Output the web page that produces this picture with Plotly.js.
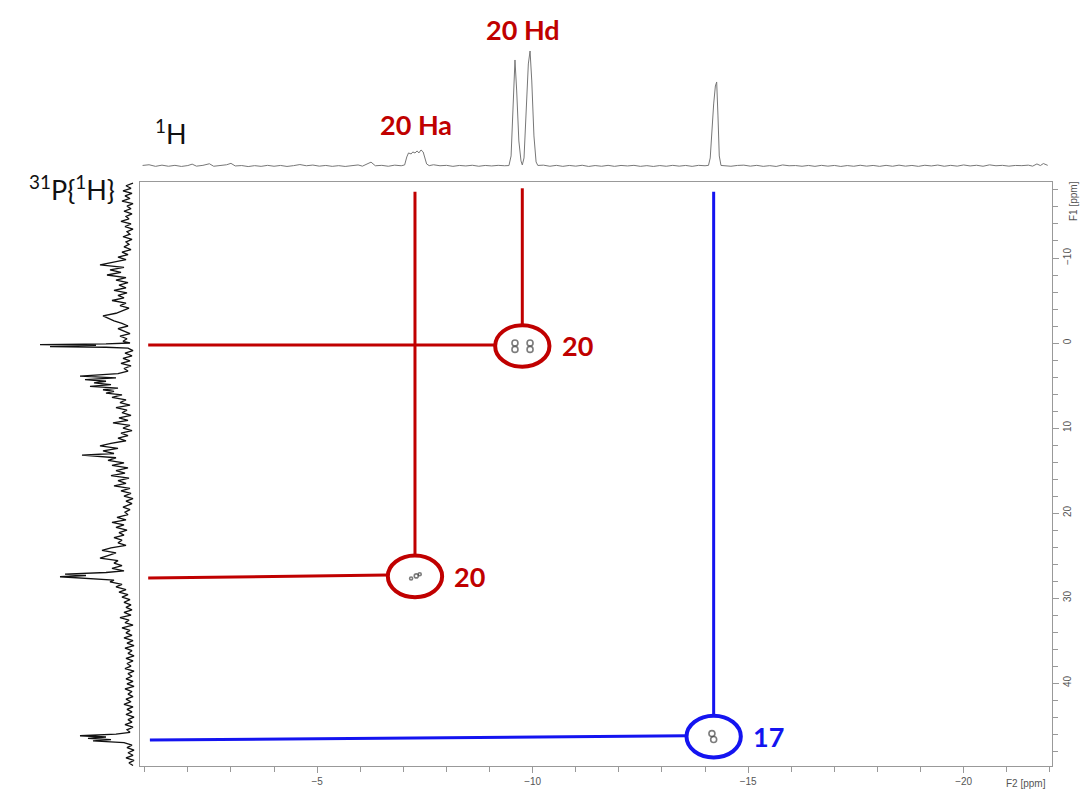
<!DOCTYPE html>
<html>
<head>
<meta charset="utf-8">
<script src="https://cdn.plot.ly/plotly-3.0.1.min.js"></script>
<style>body{margin:0;background:#fff}#chart{width:1082px;height:794px}</style>
</head>
<body>
<div id="chart"></div>
<script>
// ---- 1H projection (top) : chemical shift (ppm) and intensity ----
const topPpm = [-0.95,-1.1,-1.25,-1.4,-1.55,-1.7,-1.85,-2.0,-2.1,-2.2,-2.35,-2.5,-2.6,-2.75,-2.9,-3.0,-3.1,-3.25,-3.4,-3.55,-3.7,-3.85,-4.0,-4.15,-4.3,-4.45,-4.6,-4.75,-4.9,-5.05,-5.2,-5.35,-5.5,-5.65,-5.8,-5.95,-6.05,-6.15,-6.25,-6.35,-6.5,-6.65,-6.8,-6.95,-7.03,-7.08,-7.12,-7.18,-7.22,-7.27,-7.32,-7.36,-7.41,-7.46,-7.5,-7.54,-7.6,-7.7,-7.85,-8.0,-8.15,-8.3,-8.45,-8.6,-8.75,-8.9,-9.05,-9.2,-9.35,-9.45,-9.5,-9.55,-9.59,-9.63,-9.68,-9.73,-9.76,-9.8,-9.85,-9.9,-9.94,-9.98,-10.03,-10.08,-10.12,-10.25,-10.4,-10.55,-10.7,-10.85,-11.0,-11.15,-11.3,-11.45,-11.6,-11.75,-11.9,-12.05,-12.2,-12.35,-12.5,-12.65,-12.8,-12.95,-13.1,-13.25,-13.4,-13.55,-13.7,-13.85,-14.0,-14.08,-14.12,-14.16,-14.2,-14.24,-14.27,-14.3,-14.33,-14.37,-14.45,-14.6,-14.75,-14.9,-15.05,-15.2,-15.35,-15.5,-15.65,-15.8,-15.95,-16.1,-16.25,-16.4,-16.55,-16.7,-16.85,-17.0,-17.15,-17.3,-17.45,-17.6,-17.75,-17.9,-18.05,-18.2,-18.35,-18.5,-18.65,-18.8,-18.95,-19.1,-19.25,-19.4,-19.55,-19.7,-19.85,-20.0,-20.15,-20.3,-20.45,-20.6,-20.75,-20.9,-21.05,-21.2,-21.35,-21.5,-21.6,-21.7,-21.78,-21.85,-21.95];
const topInt = [0.5,1.2,-0.4,0.8,-0.3,0.6,-0.5,0.4,1.8,-0.2,0.6,2.2,-0.3,0.5,1.2,2.6,0.0,0.4,-0.6,0.3,-0.4,0.6,-0.3,0.5,-0.5,0.3,1.4,0.2,0.9,-0.2,0.5,-0.4,0.3,-0.5,0.4,1.0,-0.2,1.6,3.8,0.2,0.6,-0.3,0.8,0.2,1.0,9,13,12,14,13,15,13,16,14,8,2,0.3,1.2,0.2,0.6,-0.4,0.5,0.0,0.7,-0.3,0.5,0.0,0.6,0.2,0.4,10,70,106,75,25,5,1,8,55,102,115,85,30,4,0.5,0.8,-0.3,0.6,-0.4,0.5,-0.2,0.7,-0.5,0.4,-0.3,0.6,-0.4,0.5,0.0,0.6,-0.4,0.3,-0.5,0.4,-0.3,0.6,-0.2,0.5,-0.4,0.6,0.2,0.6,8,40,62,80,84,50,10,0.5,0.4,-0.3,0.5,0.8,-0.2,0.6,-0.4,0.3,-0.5,1.0,0.2,0.4,-0.3,0.5,-0.4,0.6,-0.2,0.5,-0.5,0.4,-0.3,0.7,-0.2,0.5,-0.4,0.6,-0.3,0.8,-0.2,0.5,-0.4,0.7,0.0,0.9,-0.3,0.6,-0.2,1.0,0.0,0.7,-0.3,1.1,0.2,0.6,-0.2,0.5,0.3,0.8,-0.2,2.0,0.4,2.4,0.6];

// ---- 31P{1H} projection (left) ----
const pPpm = [-18.8,-18.5,-18.2,-17.9,-17.6,-17.3,-17.0,-16.7,-16.4,-16.1,-15.8,-15.5,-15.2,-14.9,-14.6,-14.3,-14.0,-13.7,-13.4,-13.1,-12.8,-12.5,-12.2,-11.9,-11.6,-11.3,-11.0,
 -10.7,-10.4,-10.1,-9.8,-9.5,-9.2,-8.9,-8.6,-8.3,-8.0,-7.7,-7.4,
 -7.1,-6.8,-6.5,-6.2,-5.9,-5.6,-5.3,-5.0,-4.7,-4.4,-4.1,-3.8,
 -3.5,-3.2,-2.9,-2.6,-2.3,-2.0,-1.7,-1.4,-1.1,-0.8,-0.5,-0.2,0.0,
 0.1,0.2,0.28,0.35,0.42,0.5,0.6,
 0.9,1.2,1.5,1.8,2.1,2.4,2.7,3.0,3.3,3.6,
 3.9,4.1,4.3,4.5,4.7,4.9,5.1,5.3,5.5,5.7,5.9,6.1,6.4,6.7,
 7.0,7.3,7.6,7.9,8.2,8.5,8.8,9.1,9.4,9.7,10.0,10.3,10.6,10.9,11.2,11.5,
 11.8,12.1,12.4,12.7,13.0,13.2,13.5,13.8,
 14.1,14.4,14.7,15.0,15.3,15.6,15.9,16.2,16.5,16.8,17.1,17.4,
 17.7,18.0,18.3,18.6,18.9,19.3,19.6,19.9,
 20.2,20.5,20.8,21.1,21.4,21.7,22.0,22.3,22.6,22.9,23.2,23.5,23.8,
 24.1,24.4,24.7,25.0,25.3,25.6,25.9,26.2,26.5,26.8,
 27.0,27.2,27.35,27.5,27.7,27.9,28.1,
 28.4,28.7,29.0,29.3,29.6,29.9,30.2,30.5,30.8,31.1,31.4,
 31.7,32.0,32.3,32.6,32.9,33.2,33.5,33.8,34.1,34.4,34.7,
 35.0,35.3,35.6,35.9,36.2,36.5,36.8,37.1,37.4,37.7,38.0,38.3,38.6,38.9,39.2,39.5,39.8,40.1,40.4,40.7,41.0,41.3,41.6,41.9,42.2,42.5,42.8,43.1,43.4,43.7,44.0,44.3,44.6,44.9,45.2,45.5,45.8,
 46.0,46.2,46.35,46.5,46.65,46.8,47.0,
 47.3,47.6,47.9,48.2,48.5,48.8,49.1,49.4,49.7];
const pInt = [3,10,5,13,4,11,6,14,3,9,5,12,4,10,7,15,5,11,3,9,6,13,4,10,7,12,5,
 14,8,18,10,22,36,12,26,15,29,10,20,
 8,17,10,22,9,18,12,24,10,16,7,14,
 20,33,28,22,14,8,18,12,6,16,9,13,6,
 30,96,40,70,86,30,8,
 3,11,4,13,6,15,5,12,8,18,
 56,20,51,30,42,25,46,18,33,22,30,14,24,10,
 16,6,20,9,14,5,17,8,23,6,13,4,15,8,18,10,
 25,36,18,33,22,54,20,28,
 12,24,8,20,11,25,7,18,10,22,6,15,
 5,12,3,10,4,13,6,11,
 8,19,10,24,12,20,9,17,12,22,14,18,10,
 25,34,20,28,36,18,22,14,24,12,
 30,71,50,76,45,22,26,
 14,20,10,17,8,14,6,12,5,10,4,
 12,5,16,7,11,3,14,6,10,4,12,
 3,9,2,11,4,8,2,10,3,9,5,11,2,8,4,10,3,9,2,11,4,8,3,10,5,12,3,9,4,10,2,8,4,11,3,9,6,
 20,56,30,48,25,43,12,
 4,9,2,8,3,10,2,7,3];

// ---- cross peaks (F2 = 1H, F1 = 31P) ----
const crossF2 = [-9.76, -7.27, -14.2];
const crossF1 = [0.35, 27.45, 46.3];
const crossLabel = ['20', '20', '17'];
const crossColor = ['#C00000', '#C00000', '#1414F0'];
const vLineTopF1 = [-18.2, -17.8, -17.8];
const hLineLeftF2 = [-1.08, -1.08, -1.12];
const hLineLeftF1 = [0.24, 27.65, 46.7];
const hLineRightF1 = [0.24, 27.3, 46.2];
const circleRx = 0.63, circleRy = 2.45;

// contour blobs inside the circles
const contourF2 = [-9.59, -9.59, -9.94, -9.94, -7.18, -7.3, -7.38, -14.16, -14.2];
const contourF1 = [0.0, 0.75, 0.0, 0.75, 27.7, 27.4, 27.2, 45.95, 46.65];
const contourSize = [6, 6, 6, 6, 3, 4, 3, 6, 6];

// 1D peak labels
const specLabels = ['20 Ha', '20 Hd'];
const specLabelF2 = [-7.3, -9.77];

const traces = [];
traces.push({x: topPpm, y: topInt, xaxis: 'x', yaxis: 'y2', type: 'scatter', mode: 'lines',
  line: {color: '#777', width: 1}, hoverinfo: 'skip'});
traces.push({x: pInt, y: pPpm, xaxis: 'x3', yaxis: 'y', type: 'scatter', mode: 'lines',
  line: {color: '#111', width: 1.3}, hoverinfo: 'skip'});

const shapes = [];
const annotations = [];
for (let i = 0; i < crossF2.length; i++) {
  traces.push({x: [crossF2[i], crossF2[i]], y: [vLineTopF1[i], crossF1[i] - circleRy],
    xaxis: 'x', yaxis: 'y', mode: 'lines', line: {color: crossColor[i], width: 3}, hoverinfo: 'skip'});
  traces.push({x: [hLineLeftF2[i], crossF2[i] + circleRx], y: [hLineLeftF1[i], hLineRightF1[i]],
    xaxis: 'x', yaxis: 'y', mode: 'lines', line: {color: crossColor[i], width: 3}, hoverinfo: 'skip'});
  shapes.push({type: 'circle', xref: 'x', yref: 'y',
    x0: crossF2[i] + circleRx, x1: crossF2[i] - circleRx,
    y0: crossF1[i] - circleRy, y1: crossF1[i] + circleRy,
    line: {color: crossColor[i], width: 4}});
  annotations.push({x: crossF2[i], y: crossF1[i], xref: 'x', yref: 'y', text: crossLabel[i],
    showarrow: false, xshift: 55, xanchor: 'center', yanchor: 'middle',
    font: {family: 'Lato', size: 27, color: crossColor[i], weight: 'bold'}});
}
traces.push({x: contourF2, y: contourF1, xaxis: 'x', yaxis: 'y', mode: 'markers',
  marker: {symbol: 'circle-open', size: contourSize, color: '#444', line: {width: 1.6, color: '#444'}},
  hoverinfo: 'skip'});

const labelFontRed = {family: 'Lato', size: 27, color: '#C00000', weight: 'bold'};
annotations.push({x: specLabelF2[0], y: (766-125)/766, xref: 'x', yref: 'paper', text: specLabels[0],
  showarrow: false, xanchor: 'center', yanchor: 'middle', font: labelFontRed});
annotations.push({x: specLabelF2[1], y: (766-30)/766, xref: 'x', yref: 'paper', text: specLabels[1],
  showarrow: false, xanchor: 'center', yanchor: 'middle', font: labelFontRed});
annotations.push({x: 171/1052, y: (766-132)/766, xref: 'paper', yref: 'paper', text: '<sup>1</sup>H',
  showarrow: false, xanchor: 'center', yanchor: 'middle', font: {family: 'Lato', size: 27, color: '#111'}});
annotations.push({x: 72/1052, y: (766-188)/766, xref: 'paper', yref: 'paper', text: '<sup>31</sup>P{<sup>1</sup>H}',
  showarrow: false, xanchor: 'center', yanchor: 'middle', font: {family: 'Lato', size: 27, color: '#111'}});
annotations.push({x: 1073/1052, y: (766-201)/766, xref: 'paper', yref: 'paper', text: 'F1 [ppm]',
  textangle: -90, showarrow: false, xanchor: 'center', yanchor: 'middle',
  font: {family: 'Liberation Sans', size: 10, color: '#555'}});
annotations.push({x: 1026/1052, y: (766-783)/766, xref: 'paper', yref: 'paper', text: 'F2 [ppm]',
  showarrow: false, xanchor: 'center', yanchor: 'middle',
  font: {family: 'Liberation Sans', size: 10, color: '#555'}});

const tickFont = {family: 'Liberation Sans', size: 10, color: '#555'};
const layout = {
  width: 1082, height: 794,
  margin: {l: 0, r: 30, t: 0, b: 28},
  paper_bgcolor: '#fff', plot_bgcolor: 'rgba(0,0,0,0)',
  showlegend: false,
  xaxis: {domain: [140/1052, 1], range: [-0.89, -22.05], anchor: 'y',
    showline: true, linecolor: '#999', linewidth: 1, mirror: true,
    ticks: 'outside', ticklen: 6, tickcolor: '#999', dtick: 5, tick0: 0,
    minor: {dtick: 1, ticks: 'outside', ticklen: 5, tickcolor: '#999', showgrid: false},
    showgrid: false, zeroline: false, tickfont: tickFont},
  yaxis: {domain: [0, 0.7624], range: [49.76, -18.94], anchor: 'x', side: 'right',
    showline: true, linecolor: '#999', linewidth: 1, mirror: true,
    ticks: 'outside', ticklen: 6, tickcolor: '#999', dtick: 10, tick0: 0, tickangle: -90,
    minor: {dtick: 2, ticks: 'outside', ticklen: 5, tickcolor: '#999', showgrid: false},
    showgrid: false, zeroline: false, tickfont: tickFont},
  yaxis2: {domain: [0.775, 1], range: [-6.4, 166], anchor: 'x', visible: false, fixedrange: true},
  xaxis3: {domain: [0, 140/1052], range: [136, -4], anchor: 'y', visible: false, fixedrange: true},
  shapes: shapes,
  annotations: annotations
};
Plotly.newPlot('chart', traces, layout, {displayModeBar: false, staticPlot: true});
</script>
</body>
</html>
